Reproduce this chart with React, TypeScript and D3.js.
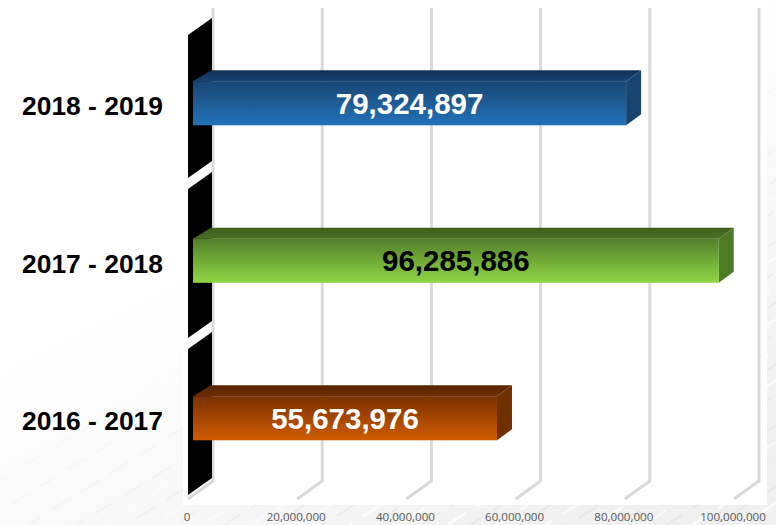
import * as d3 from "d3";

const periods = ["2018 - 2019", "2017 - 2018", "2016 - 2017"];
const totals = [79324897, 96285886, 55673976];
const tickValues = [0, 20000000, 40000000, 60000000, 80000000, 100000000];

const frontColors = [
  ["#184674", "#2272b8"],
  ["#527f2a", "#8fd644"],
  ["#7a3000", "#d05c00"],
];
const topColors = [
  ["#0f3055", "#174470"],
  ["#3d5f1d", "#4a7024"],
  ["#582400", "#6d2e02"],
];
const sideColors = ["#174470", "#4d7a26", "#6f3000"];
const valueColors = ["#ffffff", "#000000", "#ffffff"];

const width = 776;
const height = 525;

// x is the floor line, the wall sits behind it
const x = d3.scaleLinear().domain([0, 100000000]).range([187, 733]);
const y = d3.scaleBand().domain(periods).range([24.5, 497]).paddingInner(0.72).paddingOuter(0.36);

const wallDx = 26;
const wallTop = 8;
const wallBottom = 481;
const floorDrop = 18;
const barStart = 6;
const depthX = 15;
const depthY = 11;
const fmt = d3.format(",");

const sans = "'Liberation Sans', Arial, sans-serif";

const App = () => {
  // black axis wall, split in 3 pieces with slanted gaps
  const wallCuts: [number, number][] = [
    [35, 178],
    [189, 338],
    [349, 495],
  ];
  const wallX0 = 188;
  const wallX1 = 212;
  const slant = 17;

  return (
    <svg
      width={width}
      height={height}
      style={{ position: "absolute", left: 0, top: 0, display: "block" }}
    >
      <defs>
        <linearGradient id="page" x1="0" y1="0" x2="0.75" y2="1">
          <stop offset="0.45" stopColor="#ffffff" />
          <stop offset="1" stopColor="#f0f0f0" />
        </linearGradient>
        <pattern id="streaks" width="34" height="26" patternUnits="userSpaceOnUse" patternTransform="rotate(-32)">
          <line x1="0" y1="6" x2="22" y2="6" stroke="#ffffff" strokeWidth="2.5" opacity="0.8" />
          <line x1="12" y1="18" x2="34" y2="18" stroke="#dedede" strokeWidth="2" opacity="0.45" />
        </pattern>
        <linearGradient id="fade" x1="0" y1="0" x2="0.75" y2="1">
          <stop offset="0.5" stopColor="#000000" />
          <stop offset="0.9" stopColor="#ffffff" />
        </linearGradient>
        <mask id="fadeMask">
          <rect width={width} height={height} fill="url(#fade)" />
        </mask>
        {periods.map((p, i) => (
          <g key={p}>
            <linearGradient id={`front${i}`} x1="0" y1="0" x2="0" y2="1">
              <stop offset="0" stopColor={frontColors[i][0]} />
              <stop offset="1" stopColor={frontColors[i][1]} />
            </linearGradient>
            <linearGradient id={`top${i}`} x1="0" y1="0" x2="0" y2="1">
              <stop offset="0" stopColor={topColors[i][0]} />
              <stop offset="1" stopColor={topColors[i][1]} />
            </linearGradient>
          </g>
        ))}
      </defs>

      <rect width={width} height={height} fill="url(#page)" />
      <rect width={width} height={height} fill="url(#streaks)" mask="url(#fadeMask)" />
      <rect x={183} y={0} width={584} height={505} fill="#ffffff" />

      {/* grid lines with their floor part */}
      {tickValues.map((t) => (
        <path
          key={t}
          d={`M${x(t) + wallDx},${wallTop}V${wallBottom}L${x(t) + 1},${wallBottom + floorDrop}`}
          fill="none"
          stroke="#d9d9d9"
          strokeWidth={3}
        />
      ))}

      {wallCuts.map(([a, b]) => (
        <polygon
          key={a}
          points={[
            [wallX0, a],
            [wallX1, a - slant],
            [wallX1, b - slant],
            [wallX0, b],
          ].join(" ")}
          fill="#000000"
        />
      ))}

      {periods.map((p, i) => {
        const x0 = x(0) + barStart;
        const x1 = x(totals[i]) + barStart;
        const y0 = y(p) as number;
        const y1 = y0 + y.bandwidth();
        return (
          <g key={p}>
            <polygon
              points={[
                [x0, y0],
                [x0 + 18, y0 - depthY],
                [x1 + depthX, y0 - depthY],
                [x1, y0],
              ].join(" ")}
              fill={`url(#top${i})`}
            />
            <polygon
              points={[
                [x1, y0],
                [x1 + depthX, y0 - depthY],
                [x1 + depthX, y1 - depthY],
                [x1, y1],
              ].join(" ")}
              fill={sideColors[i]}
            />
            <rect x={x0} y={y0} width={x1 - x0} height={y.bandwidth()} fill={`url(#front${i})`} />
            <text
              x={(x0 + x1) / 2}
              y={(y0 + y1) / 2}
              textAnchor="middle"
              dominantBaseline="central"
              fontFamily={sans}
              fontWeight="bold"
              fontSize={29.5}
              fill={valueColors[i]}
            >
              {fmt(totals[i])}
            </text>
            <text
              x={92.5}
              y={(y0 + y1) / 2 + 3}
              textAnchor="middle"
              dominantBaseline="central"
              fontFamily={sans}
              fontWeight="bold"
              fontSize={26.4}
              fill="#000000"
            >
              {p}
            </text>
          </g>
        );
      })}

      {tickValues.map((t) => (
        <text
          key={t}
          x={x(t)}
          y={516}
          textAnchor="middle"
          dominantBaseline="central"
          fontFamily="'Open Sans', sans-serif"
          fontSize={11.6}
          fill="#595959"
        >
          {fmt(t)}
        </text>
      ))}
    </svg>
  );
};

export default App;
